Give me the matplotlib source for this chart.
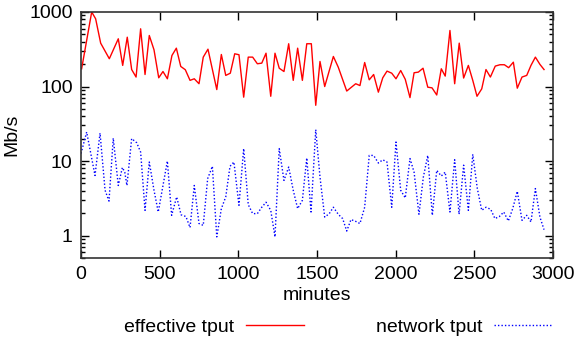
import matplotlib
matplotlib.use('Agg')
import matplotlib.pyplot as plt
from matplotlib.ticker import FixedLocator, LogLocator, NullFormatter

plt.rcParams.update({'font.family': 'Liberation Sans', 'font.size': 14})

# effective throughput (Mb/s) vs minutes
eff_min = [4, 68, 93, 125, 180, 237, 265, 294, 322, 350, 379, 407, 434, 464, 494, 521,
           549, 578, 606, 634, 663, 693, 720, 750, 777, 807, 863, 892, 920, 949, 977,
           1004, 1034, 1063, 1091, 1121, 1149, 1176, 1206, 1233, 1260, 1290, 1320, 1349,
           1377, 1407, 1435, 1464, 1492, 1519, 1549, 1604, 1635, 1689, 1746, 1773, 1803,
           1832, 1860, 1890, 1918, 1945, 1975, 2002, 2032, 2061, 2091, 2117, 2144, 2174,
           2204, 2231, 2261, 2290, 2315, 2345, 2375, 2404, 2432, 2462, 2490, 2517, 2547,
           2574, 2602, 2633, 2663, 2691, 2718, 2748, 2773, 2803, 2833, 2860, 2888, 2917,
           2943]
eff_tput = [173, 1000, 811, 382, 236, 437, 192, 459, 169, 134, 595, 145, 484, 311, 131,
            159, 127, 261, 327, 186, 168, 121, 127, 109, 248, 317, 91, 269, 141, 151, 275,
            267, 72, 248, 248, 202, 206, 280, 74, 280, 176, 159, 375, 121, 327, 121, 375,
            375, 56, 217, 100, 253, 182, 87, 109, 103, 210, 123, 145, 84, 131, 161, 151,
            127, 164, 125, 71, 153, 156, 176, 98, 96, 77, 173, 138, 565, 109, 382, 130,
            192, 121, 74, 93, 169, 134, 188, 196, 196, 179, 212, 95, 134, 141, 192, 248,
            198, 169]

# network throughput (Mb/s) vs minutes
net_min = [0, 36, 89, 121, 153, 178, 205, 237, 263, 278, 292, 322, 354, 379, 407, 434,
           464, 491, 549, 576, 608, 636, 667, 693, 720, 750, 777, 805, 835, 863, 892, 920,
           947, 972, 1004, 1034, 1063, 1091, 1121, 1149, 1176, 1206, 1233, 1260, 1290,
           1320, 1349, 1377, 1407, 1435, 1462, 1492, 1519, 1549, 1578, 1604, 1635, 1663,
           1689, 1716, 1746, 1773, 1803, 1832, 1860, 1890, 1918, 1945, 1975, 2002, 2032,
           2061, 2091, 2117, 2148, 2176, 2204, 2233, 2261, 2290, 2315, 2345, 2375, 2403,
           2432, 2462, 2490, 2519, 2547, 2574, 2604, 2631, 2659, 2687, 2716, 2744, 2773,
           2803, 2833, 2860, 2888, 2917, 2943]
net_tput = [12.6, 24.5, 6.4, 23.7, 4.05, 2.9, 20.3, 4.7, 8.2, 7.1, 4.7, 20, 17.6, 13.2,
            2.18, 9.7, 4.05, 2.07, 10, 1.87, 3.3, 1.9, 1.8, 1.28, 4.7, 1.45, 1.37, 5.8,
            8.5, 0.96, 2.3, 3.3, 8.5, 9.7, 2.55, 14.7, 2.6, 1.97, 1.97, 2.4, 2.8, 2.18,
            0.96, 14.7, 5.5, 8.3, 4.05, 2.3, 2.97, 11, 2.07, 26.4, 6.1, 1.77, 1.97, 2.4,
            1.93, 1.69, 1.15, 1.64, 1.55, 1.45, 2.4, 11.9, 11.9, 9.4, 10.4, 9.7, 2.4, 18,
            4.05, 3.2, 10.8, 7.1, 1.93, 6.1, 11.9, 1.87, 7.5, 6.3, 7.1, 2.07, 10.4, 1.93,
            8.8, 2.18, 12.3, 4.27, 2.18, 2.4, 2.25, 1.69, 1.8, 2.07, 1.57, 2.3, 3.93, 1.6,
            1.87, 1.52, 4.27, 1.77, 1.2]

fig = plt.figure(figsize=(5.78, 3.46), dpi=100)
ax = fig.add_axes([81/578, 1 - 258/346, 472/578, 246/346])

l1, = ax.plot(eff_min, eff_tput, color='#ff0000', lw=1, label='effective tput')
l2, = ax.plot(net_min, net_tput, color='#0000ff', lw=1, ls=(0, (1, 1.5)),
              label='network tput')

ax.set_yscale('log')
ax.set_xlim(0, 3000)
ax.set_ylim(0.5, 1000)
ax.xaxis.set_major_locator(FixedLocator([0, 500, 1000, 1500, 2000, 2500, 3000]))
ax.yaxis.set_major_locator(FixedLocator([1, 10, 100, 1000]))
ax.set_yticklabels(['1', '10', '100', '1000'])
ax.yaxis.set_minor_locator(LogLocator(base=10, subs=range(2, 10)))
ax.yaxis.set_minor_formatter(NullFormatter())
ax.tick_params(which='both', direction='in', top=True, right=True, width=1)
ax.tick_params(which='major', length=6, pad=6)
ax.tick_params(which='minor', length=3)
for s in ax.spines.values():
    s.set_linewidth(1.2)
    s.set_color('#333333')

ax.set_xlabel('minutes', labelpad=3)
ax.set_ylabel('Mb/s', labelpad=6)

fig.legend(handles=[l1, l2], loc='center', bbox_to_anchor=(338/578, 1 - 327/346),
           ncol=2, frameon=False, markerfirst=False, handlelength=3.0,
           handletextpad=0.6, columnspacing=3.7, borderaxespad=0)

fig.savefig('out.png', dpi=100)
